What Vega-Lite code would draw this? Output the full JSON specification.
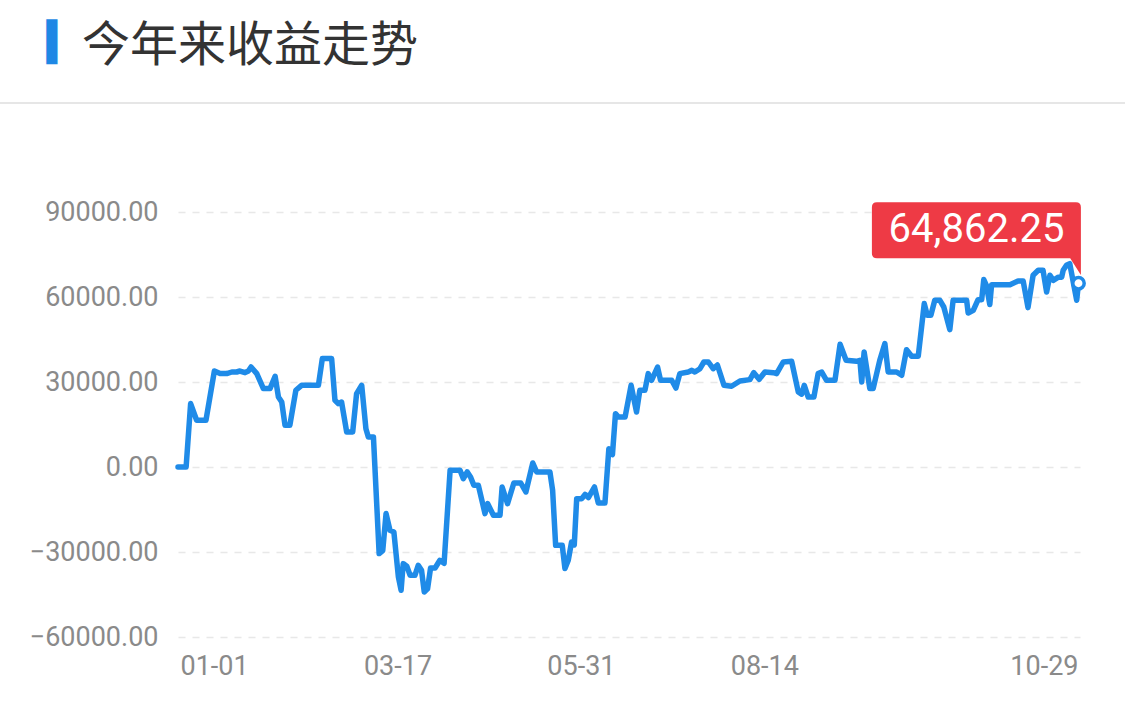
{
  "$schema": "https://vega.github.io/schema/vega-lite/v6.json",
  "width": 902,
  "height": 425,
  "autosize": {"type": "none"},
  "padding": {"left": 178, "top": 212, "right": 45, "bottom": 77},
  "background": "#ffffff",
  "config": {"view": {"stroke": null}},
  "title": {
    "text": "今年来收益走势",
    "anchor": "start",
    "frame": "group",
    "dx": -96,
    "offset": -47,
    "fontSize": 48,
    "font": "Noto Sans CJK SC",
    "fontWeight": "normal",
    "color": "#333333"
  },
  "datasets": {
    "series": [
      {"t": 0, "v": 0}, {"t": 2.7, "v": 0}, {"t": 4.2, "v": 22370}, {"t": 6.2, "v": 16480}, {"t": 9.3, "v": 16480},
      {"t": 12.1, "v": 33880}, {"t": 14, "v": 32960}, {"t": 16.2, "v": 32960}, {"t": 17.9, "v": 33530}, {"t": 19.5, "v": 33530},
      {"t": 20.6, "v": 33880}, {"t": 22.3, "v": 33300}, {"t": 23.4, "v": 33880}, {"t": 24.3, "v": 35290}, {"t": 26.2, "v": 32960},
      {"t": 28.4, "v": 27670}, {"t": 30.6, "v": 27670}, {"t": 32.3, "v": 32010}, {"t": 33.4, "v": 24700}, {"t": 34.5, "v": 22940},
      {"t": 35.6, "v": 14720}, {"t": 37.2, "v": 14720}, {"t": 39.2, "v": 27070}, {"t": 41.1, "v": 28830}, {"t": 46.7, "v": 28830},
      {"t": 48, "v": 38260}, {"t": 51.1, "v": 38260}, {"t": 52.2, "v": 23540}, {"t": 53.3, "v": 22370}, {"t": 54.4, "v": 22940},
      {"t": 56.1, "v": 12350}, {"t": 58.1, "v": 12350}, {"t": 59.4, "v": 25900}, {"t": 61.1, "v": 28830}, {"t": 62.5, "v": 13530},
      {"t": 63.3, "v": 10590}, {"t": 65, "v": 10590}, {"t": 66.9, "v": -30570}, {"t": 68.1, "v": -29500}, {"t": 69.2, "v": -16450},
      {"t": 70.5, "v": -22340}, {"t": 71.8, "v": -22940}, {"t": 73.3, "v": -38820}, {"t": 74.2, "v": -43510}, {"t": 74.9, "v": -34100},
      {"t": 76.1, "v": -35000}, {"t": 77.2, "v": -38220}, {"t": 78.8, "v": -38220}, {"t": 79.9, "v": -34690}, {"t": 81, "v": -36460},
      {"t": 81.9, "v": -44100}, {"t": 83, "v": -43000}, {"t": 84, "v": -35650}, {"t": 85.5, "v": -35650}, {"t": 87.1, "v": -32930},
      {"t": 88.5, "v": -34000}, {"t": 90.5, "v": -1160}, {"t": 93.8, "v": -1160}, {"t": 94.9, "v": -4100}, {"t": 96.2, "v": -1760},
      {"t": 97.3, "v": -3500}, {"t": 98.4, "v": -6470}, {"t": 99.9, "v": -6470}, {"t": 102.1, "v": -16450}, {"t": 103, "v": -12920},
      {"t": 104.9, "v": -17050}, {"t": 107.1, "v": -17050}, {"t": 107.8, "v": -7060}, {"t": 109.6, "v": -12920}, {"t": 111.7, "v": -5650},
      {"t": 114, "v": -5650}, {"t": 115.7, "v": -8820}, {"t": 118, "v": 1410}, {"t": 119.3, "v": -1760}, {"t": 123.7, "v": -1760},
      {"t": 124.6, "v": -8240}, {"t": 125.6, "v": -27640}, {"t": 127.8, "v": -27640}, {"t": 128.7, "v": -35860}, {"t": 129.8, "v": -32930},
      {"t": 130.9, "v": -26470}, {"t": 131.8, "v": -27500}, {"t": 132.6, "v": -11170}, {"t": 134.3, "v": -11170}, {"t": 135.4, "v": -9640},
      {"t": 136.5, "v": -10800}, {"t": 138.5, "v": -7060}, {"t": 139.8, "v": -12700}, {"t": 142, "v": -12700}, {"t": 143.3, "v": 6470},
      {"t": 144.5, "v": 4400}, {"t": 145.5, "v": 18830}, {"t": 146.5, "v": 17650}, {"t": 148.7, "v": 17650}, {"t": 150.7, "v": 28830},
      {"t": 152.5, "v": 19410}, {"t": 153.6, "v": 27070}, {"t": 155.3, "v": 27070}, {"t": 156.4, "v": 32960}, {"t": 157.5, "v": 30600},
      {"t": 159.5, "v": 35290}, {"t": 160.5, "v": 30600}, {"t": 164.2, "v": 30600}, {"t": 165.6, "v": 27880}, {"t": 166.9, "v": 32960},
      {"t": 169.7, "v": 33530}, {"t": 170.9, "v": 34100}, {"t": 171.9, "v": 33530}, {"t": 173.6, "v": 34700}, {"t": 174.9, "v": 37060},
      {"t": 176.4, "v": 37060}, {"t": 178, "v": 34700}, {"t": 179.4, "v": 36000}, {"t": 181.6, "v": 28830}, {"t": 184.1, "v": 28500},
      {"t": 186.9, "v": 30360}, {"t": 190.2, "v": 30840}, {"t": 191.5, "v": 33300}, {"t": 193.3, "v": 30950}, {"t": 195.2, "v": 33530},
      {"t": 198, "v": 33300}, {"t": 199.1, "v": 32960}, {"t": 201.3, "v": 37060}, {"t": 204.1, "v": 37300}, {"t": 206.3, "v": 26470},
      {"t": 207.4, "v": 25700}, {"t": 208.3, "v": 28830}, {"t": 209.6, "v": 24700}, {"t": 211.5, "v": 24700}, {"t": 212.9, "v": 32960},
      {"t": 214.1, "v": 33500}, {"t": 215.7, "v": 30600}, {"t": 218.5, "v": 30600}, {"t": 220.2, "v": 43300}, {"t": 222.2, "v": 37650},
      {"t": 225.7, "v": 37300}, {"t": 226.8, "v": 37650}, {"t": 227.4, "v": 30000}, {"t": 228.2, "v": 40590}, {"t": 230.1, "v": 27670},
      {"t": 231.2, "v": 27670}, {"t": 233.4, "v": 37650}, {"t": 235.1, "v": 43550}, {"t": 236.2, "v": 33530}, {"t": 239, "v": 33530},
      {"t": 240.7, "v": 32360}, {"t": 242.3, "v": 41410}, {"t": 244, "v": 39070}, {"t": 246.2, "v": 39070}, {"t": 248.2, "v": 57670},
      {"t": 249.2, "v": 53540}, {"t": 250.4, "v": 53540}, {"t": 251.7, "v": 58830}, {"t": 253.4, "v": 58830}, {"t": 254.7, "v": 56470},
      {"t": 256.7, "v": 48490}, {"t": 257.8, "v": 58830}, {"t": 262.3, "v": 58830}, {"t": 262.8, "v": 54350}, {"t": 264.5, "v": 55300},
      {"t": 266.1, "v": 59060}, {"t": 267.3, "v": 59060}, {"t": 268, "v": 66140}, {"t": 268.9, "v": 64000}, {"t": 270, "v": 57320},
      {"t": 270.6, "v": 64360}, {"t": 276.7, "v": 64360}, {"t": 279.4, "v": 65650}, {"t": 281.1, "v": 65650}, {"t": 282.7, "v": 56260},
      {"t": 284.4, "v": 67660}, {"t": 286.1, "v": 69420}, {"t": 287.7, "v": 69420}, {"t": 288.9, "v": 61770}, {"t": 290, "v": 67660},
      {"t": 291.1, "v": 65890}, {"t": 292.8, "v": 67000}, {"t": 293.9, "v": 67000}, {"t": 294.4, "v": 69420}, {"t": 295.5, "v": 71180},
      {"t": 296.6, "v": 71770}, {"t": 298.9, "v": 58830}, {"t": 299.5, "v": 64862.25}
    ]
  },
  "data": {"name": "series"},
  "layer": [
    {
      "mark": {"type": "rule", "color": "#e6e6e6", "strokeWidth": 1.5, "clip": false},
      "encoding": {
        "x": {"datum": -59.2, "type": "quantitative"},
        "x2": {"datum": 314.9},
        "y": {"datum": 128470, "type": "quantitative"}
      }
    },
    {
      "mark": {"type": "line", "color": "#1f8be8", "strokeWidth": 5.5, "strokeJoin": "round", "strokeCap": "round"},
      "encoding": {
        "x": {
          "field": "t",
          "type": "quantitative",
          "scale": {"domain": [0, 300], "nice": false, "zero": false},
          "axis": {
            "title": null,
            "values": [12, 73, 134, 195, 288],
            "labelExpr": "datum.value == 12 ? '01-01' : datum.value == 73 ? '03-17' : datum.value == 134 ? '05-31' : datum.value == 195 ? '08-14' : '10-29'",
            "grid": false,
            "ticks": false,
            "domain": false,
            "labelPadding": 16,
            "labelFontSize": 27,
            "labelFont": "Roboto",
            "labelColor": "#8a8a8a",
            "labelFlush": false,
            "labelOverlap": false
          }
        },
        "y": {
          "field": "v",
          "type": "quantitative",
          "scale": {"domain": [-60000, 90000], "nice": false},
          "axis": {
            "title": "▍",
            "titleFont": "DejaVu Sans",
            "titleFontSize": 38,
            "titleFontWeight": "normal",
            "titleColor": "#1e88e5",
            "titleAngle": 0,
            "titleAlign": "left",
            "titleBaseline": "top",
            "titleX": -132,
            "titleY": -188,
            "values": [-60000, -30000, 0, 30000, 60000, 90000],
            "format": ".2f",
            "ticks": false,
            "domain": false,
            "grid": true,
            "gridDash": [7, 7],
            "gridColor": "#e8e8e8",
            "gridWidth": 1.5,
            "labelPadding": 20,
            "labelFontSize": 27,
            "labelFont": "Roboto",
            "labelColor": "#8a8a8a"
          }
        }
      }
    },
    {
      "transform": [{"filter": "datum.t == 299.5"}],
      "mark": {
        "type": "point",
        "shape": "M -2.016 -0.81 L -0.026 -0.81 Q 0.024 -0.81 0.024 -0.76 L 0.024 -0.083 L -0.083 -0.25 L -2.016 -0.25 Q -2.066 -0.25 -2.066 -0.3 L -2.066 -0.76 Q -2.066 -0.81 -2.016 -0.81 Z",
        "size": 40000,
        "filled": true,
        "color": "#ee3a45",
        "opacity": 1,
        "strokeWidth": 0
      },
      "encoding": {
        "x": {"field": "t", "type": "quantitative"},
        "y": {"field": "v", "type": "quantitative"}
      }
    },
    {
      "transform": [{"filter": "datum.t == 299.5"}],
      "mark": {"type": "text", "color": "#ffffff", "font": "Roboto", "fontSize": 40, "dx": -102, "dy": -53, "align": "center", "baseline": "middle"},
      "encoding": {
        "x": {"field": "t", "type": "quantitative"},
        "y": {"field": "v", "type": "quantitative"},
        "text": {"field": "v", "type": "quantitative", "format": ",.2f"}
      }
    },
    {
      "transform": [{"filter": "datum.t == 299.5"}],
      "mark": {"type": "point", "shape": "circle", "size": 130, "filled": false, "fill": "#ffffff", "stroke": "#1f8be8", "strokeWidth": 3.5, "opacity": 1},
      "encoding": {
        "x": {"field": "t", "type": "quantitative"},
        "y": {"field": "v", "type": "quantitative"}
      }
    }
  ]
}
